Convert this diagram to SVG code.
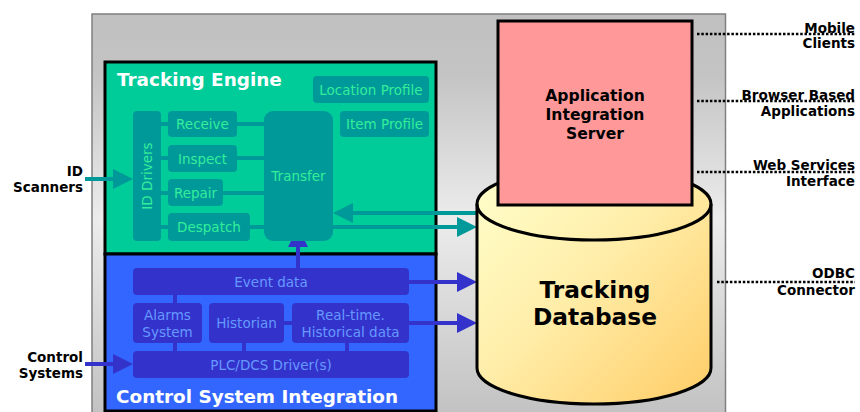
<svg xmlns="http://www.w3.org/2000/svg" width="860" height="412" viewBox="0 0 860 412">
  <defs>
    <linearGradient id="panelGrad" x1="0" y1="0" x2="0" y2="1">
      <stop offset="0" stop-color="#c0c0c0"/>
      <stop offset="0.15" stop-color="#c4c4c4"/>
      <stop offset="0.5" stop-color="#ececec"/>
      <stop offset="1" stop-color="#c0c0c0"/>
    </linearGradient>
    <linearGradient id="dbGrad" x1="0" y1="0" x2="1" y2="1">
      <stop offset="0" stop-color="#ffffcc"/>
      <stop offset="0.45" stop-color="#ffeeaa"/>
      <stop offset="1" stop-color="#ffcc66"/>
    </linearGradient>
    <marker id="headTeal" markerUnits="userSpaceOnUse" markerWidth="20" markerHeight="20" refX="0" refY="10" orient="auto" overflow="visible">
      <path d="M0,0 L20,10 L0,20 z" fill="#009999"/>
    </marker>
    <marker id="headBlue" markerUnits="userSpaceOnUse" markerWidth="20" markerHeight="20" refX="0" refY="10" orient="auto" overflow="visible">
      <path d="M0,0 L20,10 L0,20 z" fill="#3333cc"/>
    </marker>
    <style>
      .title { font-family: "DejaVu Sans", Verdana, sans-serif; font-weight: bold; fill: #ffffff; font-size: 18.4px; }
      .teal-box { fill: #009999; }
      .teal-txt { font-family: "DejaVu Sans", Verdana, sans-serif; font-size: 13.5px; fill: #33ee99; text-anchor: middle; }
      .blue-box { fill: #3333cc; }
      .blue-txt { font-family: "DejaVu Sans", Verdana, sans-serif; font-size: 13.5px; fill: #6699ff; text-anchor: middle; }
      .teal-link { stroke: #009999; stroke-width: 4; fill: none; }
      .blue-link { stroke: #3333cc; stroke-width: 4; fill: none; }
      .lbl { font-family: "DejaVu Sans", Verdana, sans-serif; font-weight: bold; font-size: 13.5px; fill: #000000; text-anchor: end; }
      .dots { stroke: #000000; stroke-width: 2.5; stroke-dasharray: 2.5 1.8; fill: none; }
      .big { font-family: "DejaVu Sans", Verdana, sans-serif; font-weight: bold; fill: #000000; text-anchor: middle; }
    </style>
  </defs>

  <!-- background panel -->
  <rect x="92" y="14" width="633.5" height="410" fill="url(#panelGrad)" stroke="#808080" stroke-width="1.5"/>

  <!-- Tracking Engine -->
  <g id="tracking-engine">
    <rect x="105" y="62" width="331" height="192" fill="#00cc99" stroke="#000" stroke-width="3"/>
    <text class="title" x="117" y="86">Tracking Engine</text>
  </g>

  <!-- Control System Integration -->
  <g id="control-system-integration">
    <rect x="105" y="254" width="331" height="157" fill="#3366ff" stroke="#000" stroke-width="3"/>
    <text class="title" x="116" y="403">Control System Integration</text>
  </g>

  <!-- connectors -->
  <g id="connectors">
    <!-- engine internals -->
    <path class="teal-link" d="M160,124 H170 M160,158 H170 M160,193 H170 M160,227 H170"/>
    <path class="teal-link" d="M236,124 H266 M236,158 H266 M222,193 H266 M250,227 H266"/>
    <!-- control internals -->
    <path class="blue-link" d="M175,294 V304 M175,342 V352 M244,342 V352 M347,342 V352 M283,323 H293"/>
    <!-- inputs -->
    <line class="teal-link" x1="85" y1="179" x2="113" y2="179" marker-end="url(#headTeal)"/>
    <line class="blue-link" x1="85" y1="364" x2="113" y2="364" marker-end="url(#headBlue)"/>
    <!-- engine <-> database -->
    <line class="teal-link" x1="477" y1="213" x2="353" y2="213" marker-end="url(#headTeal)"/>
    <line class="teal-link" x1="333" y1="227" x2="457" y2="227" marker-end="url(#headTeal)"/>
    <!-- control -> engine / database -->
    <line class="blue-link" x1="298" y1="268" x2="298" y2="247" marker-end="url(#headBlue)"/>
    <line class="blue-link" x1="408" y1="282" x2="457" y2="282" marker-end="url(#headBlue)"/>
    <line class="blue-link" x1="408" y1="323" x2="457" y2="323" marker-end="url(#headBlue)"/>
    <!-- external interfaces -->
    <path class="dots" d="M697,34 H855 M697,101 H855 M697,172 H855 M717,282 H855"/>
  </g>

  <!-- engine components -->
  <g id="location-profile"><rect class="teal-box" x="313" y="76" width="116" height="27" rx="4"/><text class="teal-txt" x="371" y="94.5">Location Profile</text></g>
  <g id="item-profile"><rect class="teal-box" x="340" y="111" width="89" height="26" rx="4"/><text class="teal-txt" x="384.5" y="129">Item Profile</text></g>
  <g id="id-drivers"><rect class="teal-box" x="133" y="111" width="28" height="130" rx="4"/><text class="teal-txt" transform="translate(152,176) rotate(-90)" x="0" y="0">ID Drivers</text></g>
  <g id="receive"><rect class="teal-box" x="168" y="111" width="69" height="26" rx="4"/><text class="teal-txt" x="202.5" y="129">Receive</text></g>
  <g id="inspect"><rect class="teal-box" x="168" y="145" width="69" height="27" rx="4"/><text class="teal-txt" x="202.5" y="163.5">Inspect</text></g>
  <g id="repair"><rect class="teal-box" x="168" y="179" width="55" height="27" rx="4"/><text class="teal-txt" x="195.5" y="197.5">Repair</text></g>
  <g id="despatch"><rect class="teal-box" x="168" y="213" width="82" height="28" rx="4"/><text class="teal-txt" x="209" y="232">Despatch</text></g>
  <g id="transfer"><rect class="teal-box" x="264" y="111" width="69" height="130" rx="9"/><text class="teal-txt" x="298.5" y="181">Transfer</text></g>

  <!-- control components -->
  <g id="event-data"><rect class="blue-box" x="133" y="268" width="276" height="27" rx="4"/><text class="blue-txt" x="271" y="286.5">Event data</text></g>
  <g id="alarms-system"><rect class="blue-box" x="133" y="303" width="69" height="40" rx="4"/><text class="blue-txt" x="167.5" y="320">Alarms</text><text class="blue-txt" x="167.5" y="337">System</text></g>
  <g id="historian"><rect class="blue-box" x="209" y="303" width="75" height="40" rx="4"/><text class="blue-txt" x="246.5" y="328">Historian</text></g>
  <g id="realtime-historical"><rect class="blue-box" x="292" y="303" width="117" height="40" rx="4"/><text class="blue-txt" x="350.5" y="320">Real-time.</text><text class="blue-txt" x="350.5" y="337">Historical data</text></g>
  <g id="plc-dcs-drivers"><rect class="blue-box" x="133" y="351" width="276" height="27" rx="4"/><text class="blue-txt" x="271" y="369.5">PLC/DCS Driver(s)</text></g>

  <!-- tracking database -->
  <g id="tracking-database">
    <path d="M477,204 V368 A117,36 0 0 0 711,368 V204 A117,36 0 0 0 477,204 Z" fill="url(#dbGrad)" stroke="#000" stroke-width="3"/>
    <path d="M477,204 A117,36 0 0 0 711,204" fill="none" stroke="#000" stroke-width="3"/>
    <text class="big" x="595" y="298" font-size="23.3">Tracking</text>
    <text class="big" x="595" y="325" font-size="23.3">Database</text>
  </g>

  <!-- application integration server -->
  <g id="application-integration-server">
    <rect x="498" y="21" width="194" height="184" fill="#ff9999" stroke="#000" stroke-width="3"/>
    <text class="big" x="595" y="101" font-size="15.6">Application</text>
    <text class="big" x="595" y="120" font-size="15.6">Integration</text>
    <text class="big" x="595" y="139" font-size="15.6">Server</text>
  </g>

  <!-- external labels -->
  <g id="id-scanners"><text class="lbl" x="83" y="176">ID</text><text class="lbl" x="83" y="192">Scanners</text></g>
  <g id="control-systems"><text class="lbl" x="83" y="362">Control</text><text class="lbl" x="83" y="378">Systems</text></g>
  <g id="mobile-clients"><text class="lbl" x="855" y="33">Mobile</text><text class="lbl" x="855" y="48">Clients</text></g>
  <g id="browser-apps"><text class="lbl" x="855" y="100">Browser Based</text><text class="lbl" x="855" y="116">Applications</text></g>
  <g id="web-services"><text class="lbl" x="855" y="170">Web Services</text><text class="lbl" x="855" y="186">Interface</text></g>
  <g id="odbc-connector"><text class="lbl" x="855" y="278">ODBC</text><text class="lbl" x="855" y="295">Connector</text></g>
</svg>
